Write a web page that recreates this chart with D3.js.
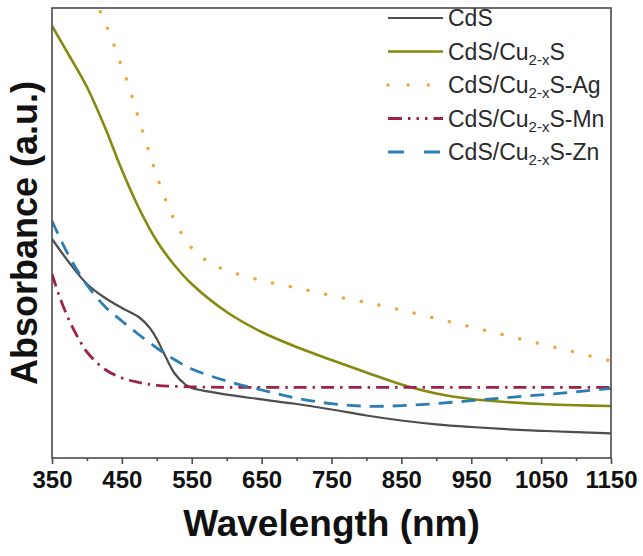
<!DOCTYPE html>
<html>
<head>
<meta charset="utf-8">
<script src="https://cdn.jsdelivr.net/npm/d3@7"></script>
<style>
  body { margin: 0; background: #fff; }
  svg { display: block; font-family: "Liberation Sans", Arial, sans-serif; }
</style>
</head>
<body>
<div id="chart"></div>
<script>
// Values (absorbance in arbitrary units)
const cdsWl  = [350, 375, 400, 425, 450, 475, 490, 500, 510, 525, 540, 550, 575, 600, 650, 700, 750, 800, 850, 900, 950, 1000, 1050, 1100, 1150];
const cdsAbs = [2.19, 1.95, 1.74, 1.605, 1.50, 1.405, 1.30, 1.19, 1.05, 0.85, 0.74, 0.70, 0.663, 0.633, 0.586, 0.54, 0.485, 0.425, 0.375, 0.337, 0.31, 0.288, 0.272, 0.258, 0.247];

const cuWl  = [350, 375, 400, 425, 450, 475, 500, 525, 550, 600, 650, 700, 750, 800, 850, 900, 950, 1000, 1050, 1100, 1150];
const cuAbs = [4.32, 4.02, 3.71, 3.32, 2.88, 2.49, 2.17, 1.93, 1.74, 1.46, 1.26, 1.11, 0.98, 0.855, 0.735, 0.645, 0.59, 0.56, 0.54, 0.527, 0.52];

const agWl  = [400, 410, 420, 425, 435, 450, 460, 475, 490, 500, 525, 550, 575, 600, 650, 700, 750, 800, 850, 900, 950, 1000, 1050, 1100, 1150];
const agAbs = [4.80, 4.62, 4.45, 4.37, 4.20, 3.91, 3.72, 3.37, 3.04, 2.82, 2.38, 2.10, 1.955, 1.875, 1.775, 1.70, 1.625, 1.555, 1.48, 1.395, 1.31, 1.225, 1.14, 1.055, 0.97];

const mnWl  = [350, 360, 375, 390, 400, 425, 450, 475, 500, 550, 600, 700, 800, 900, 1000, 1100, 1150];
const mnAbs = [1.84, 1.63, 1.37, 1.17, 1.06, 0.89, 0.80, 0.755, 0.727, 0.712, 0.707, 0.707, 0.707, 0.707, 0.707, 0.707, 0.707];

const znWl  = [350, 375, 400, 425, 450, 475, 500, 525, 550, 600, 650, 700, 750, 800, 850, 900, 950, 1000, 1050, 1100, 1150];
const znAbs = [2.37, 2.01, 1.73, 1.52, 1.37, 1.23, 1.10, 0.985, 0.89, 0.77, 0.68, 0.598, 0.543, 0.518, 0.523, 0.545, 0.573, 0.603, 0.632, 0.662, 0.697];

const seriesNames = ["CdS", "CdS/Cu_{2-x}S", "CdS/Cu_{2-x}S-Ag", "CdS/Cu_{2-x}S-Mn", "CdS/Cu_{2-x}S-Zn"];
const majorTicks = [350, 450, 550, 650, 750, 850, 950, 1050, 1150];
const minorTicks = [400, 500, 600, 700, 800, 900, 1000, 1100];

const series = [
  { name: seriesNames[0], wl: cdsWl, abs: cdsAbs, color: "#4d4d4d", width: 2.2, dash: null, legendDash: null, cap: "butt" },
  { name: seriesNames[1], wl: cuWl, abs: cuAbs, color: "#858a0e", width: 2.6, dash: null, legendDash: null, cap: "butt" },
  { name: seriesNames[2], wl: agWl, abs: agAbs, color: "#eda63c", width: 3.4, dash: "0.1 18", legendDash: "0.1 20", cap: "round" },
  { name: seriesNames[3], wl: mnWl, abs: mnAbs, color: "#9e2146", width: 2.8, dash: "13 6 2.5 6", legendDash: "14 6 2.5 6 2.5 6 2.5 6", cap: "butt" },
  { name: seriesNames[4], wl: znWl, abs: znAbs, color: "#2d7db5", width: 2.8, dash: "14 9", legendDash: "16 20", cap: "butt" }
];

const W = 643, H = 556;
const margin = { top: 8, right: 32, bottom: 98, left: 52 };
const width = W - margin.left - margin.right;
const height = H - margin.top - margin.bottom;

const svg = d3.select("#chart").append("svg")
  .attr("width", W)
  .attr("height", H);

const g = svg.append("g")
  .attr("transform", `translate(${margin.left},${margin.top})`);

const x = d3.scaleLinear().domain([350, 1150]).range([0, width]);
const y = d3.scaleLinear().domain([0, 4.5]).range([height, 0]);

svg.append("defs").append("clipPath").attr("id", "plot-clip")
  .append("rect").attr("width", width).attr("height", height);

const line = d3.line()
  .x(d => x(d[0]))
  .y(d => y(d[1]))
  .curve(d3.curveCatmullRom.alpha(0.5));

const lines = g.append("g").attr("clip-path", "url(#plot-clip)");
series.forEach(s => {
  lines.append("path")
    .datum(s.wl.map((w, i) => [w, s.abs[i]]))
    .attr("fill", "none")
    .attr("stroke", s.color)
    .attr("stroke-width", s.width)
    .attr("stroke-linecap", s.cap)
    .attr("stroke-dasharray", s.dash)
    .attr("d", line);
});

// frame
g.append("rect")
  .attr("width", width)
  .attr("height", height)
  .attr("fill", "none")
  .attr("stroke", "#4a4a4a")
  .attr("stroke-width", 1.6);

// bottom axis: major + minor ticks
const xAxis = g.append("g")
  .attr("transform", `translate(0,${height})`)
  .call(d3.axisBottom(x).tickValues(majorTicks).tickSize(6).tickPadding(7).tickFormat(d3.format("d")));
xAxis.select(".domain").remove();
xAxis.selectAll("line").attr("stroke", "#4a4a4a").attr("stroke-width", 1.6);
xAxis.selectAll("text")
  .attr("fill", "#111")
  .style("font-size", "24px")
  .style("font-weight", "bold");

const xMinor = g.append("g")
  .attr("transform", `translate(0,${height})`)
  .call(d3.axisBottom(x).tickValues(minorTicks).tickSize(3).tickFormat(""));
xMinor.select(".domain").remove();
xMinor.selectAll("line").attr("stroke", "#4a4a4a").attr("stroke-width", 1.6);

// axis titles
svg.append("text")
  .attr("x", margin.left + width / 2)
  .attr("y", 536)
  .attr("text-anchor", "middle")
  .attr("fill", "#111")
  .style("font-size", "37px")
  .style("font-weight", "bold")
  .text("Wavelength (nm)");

svg.append("text")
  .attr("transform", `translate(37,${margin.top + height / 2}) rotate(-90)`)
  .attr("text-anchor", "middle")
  .attr("fill", "#111")
  .style("font-size", "36px")
  .style("font-weight", "bold")
  .text("Absorbance (a.u.)");

// legend
const legend = g.append("g").attr("transform", "translate(336,10)");
const rowH = 33.5;
series.forEach((s, i) => {
  const row = legend.append("g").attr("transform", `translate(0,${i * rowH})`);
  row.append("line")
    .attr("x1", 0).attr("x2", 55)
    .attr("stroke", s.color)
    .attr("stroke-width", s.width)
    .attr("stroke-linecap", s.cap)
    .attr("stroke-dasharray", s.legendDash);
  const t = row.append("text")
    .attr("x", 60)
    .attr("y", 8)
    .attr("fill", "#2a2a2a")
    .style("font-size", "23px");
  s.name.split(/_\{([^}]*)\}/).forEach((part, k) => {
    if (!part) return;
    if (k % 2 === 1) {
      t.append("tspan").attr("dy", 5).style("font-size", "15px").text(part);
    } else {
      t.append("tspan").attr("dy", k > 0 ? -5 : 0).text(part);
    }
  });
});
</script>
</body>
</html>
